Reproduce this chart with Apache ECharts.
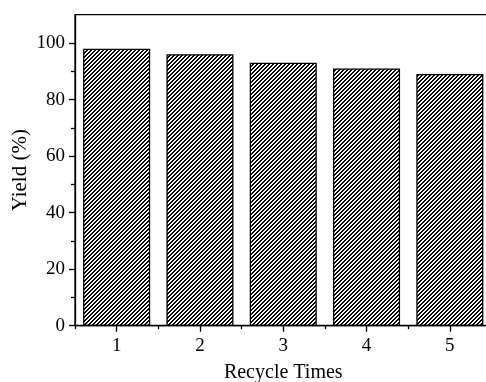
<!DOCTYPE html>
<html>
<head>
<meta charset="utf-8">
<script src="https://cdn.jsdelivr.net/npm/echarts@6/dist/echarts.min.js"></script>
<style>
html,body{margin:0;padding:0;background:#fff;}
#c{width:486px;height:382px;}
</style>
</head>
<body>
<div id="c"></div>
<script>
const categories = ['1', '2', '3', '4', '5'];
const yieldValues = [98, 96, 93, 91, 89];
const yMajorTicks = [0, 20, 40, 60, 80, 100];
const yMinorTicks = [10, 30, 50, 70, 90];

// hatch pattern "/" : crisp diagonal stripes
const tile = document.createElement('canvas');
tile.width = 4; tile.height = 4;
const tctx = tile.getContext('2d');
const img = tctx.createImageData(4, 4);
for (let y = 0; y < 4; y++) {
  for (let x = 0; x < 4; x++) {
    const i = (y * 4 + x) * 4;
    const on = ((x + y) % 4) < 2;
    const v = on ? 0 : 255;
    img.data[i] = v; img.data[i + 1] = v; img.data[i + 2] = v; img.data[i + 3] = 255;
  }
}
tctx.putImageData(img, 0, 0);

const font = 'Liberation Serif, Times New Roman, serif';
const chart = echarts.init(document.getElementById('c'), null, {renderer: 'canvas'});
chart.setOption({
  animation: false,
  backgroundColor: '#fff',
  grid: {
    left: 75, top: 14.7, bottom: 56.3, right: -5.5,
    outerBoundsMode: 'none', containLabel: false,
    show: true, borderColor: '#000', borderWidth: 1.3, backgroundColor: 'transparent'
  },
  xAxis: [
    {
      type: 'category', position: 'bottom', data: categories,
      name: 'Recycle Times', nameLocation: 'middle', nameGap: 37, nameMoveOverlap: false,
      nameTextStyle: {fontFamily: font, fontSize: 20, color: '#000'},
      axisLine: {show: true, lineStyle: {color: '#000', width: 1.3}},
      axisTick: {show: true, alignWithLabel: true, inside: false, length: 6, lineStyle: {color: '#000', width: 1.3}},
      axisLabel: {fontFamily: font, fontSize: 19, color: '#000', margin: 11},
      splitLine: {show: false}
    },
    {
      type: 'category', position: 'bottom', data: categories,
      axisLine: {show: false},
      axisTick: {show: true, alignWithLabel: false, inside: false, length: 3.5, lineStyle: {color: '#000', width: 1.3}},
      axisLabel: {show: false},
      splitLine: {show: false}
    }
  ],
  yAxis: [
    {
      type: 'value', position: 'left', min: 0, max: 110, interval: 10,
      name: 'Yield (%)', nameLocation: 'middle', nameGap: 44, nameMoveOverlap: false,
      nameTextStyle: {fontFamily: font, fontSize: 21, color: '#000'},
      axisLine: {show: true, lineStyle: {color: '#000', width: 1.3}},
      axisTick: {show: true, inside: false, length: 6, customValues: yMajorTicks, lineStyle: {color: '#000', width: 1.3}},
      axisLabel: {fontFamily: font, fontSize: 19, color: '#000', margin: 10, customValues: yMajorTicks},
      splitLine: {show: false}
    },
    {
      type: 'value', position: 'left', min: 0, max: 110, interval: 10,
      axisLine: {show: false},
      axisTick: {show: true, inside: false, length: 4, customValues: yMinorTicks, lineStyle: {color: '#000', width: 1.3}},
      axisLabel: {show: false},
      splitLine: {show: false}
    }
  ],
  series: [{
    type: 'bar', xAxisIndex: 0, yAxisIndex: 0,
    data: yieldValues,
    barCategoryGap: '19.5%',
    itemStyle: {
      color: {image: tile, repeat: 'repeat'},
      borderColor: '#000', borderWidth: 1.3
    }
  }]
});
</script>
</body>
</html>
